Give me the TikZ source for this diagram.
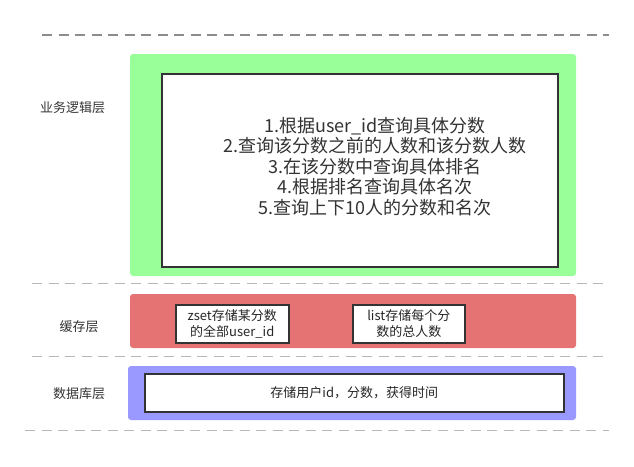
\documentclass[tikz,border=0pt]{standalone}
\usepackage{fontspec}
\setmainfont{Noto Sans CJK SC}
\begin{document}
\begin{tikzpicture}[x=1pt,y=-1pt,
  sep/.style={draw=#1,line width=1.5pt,dash pattern=on 10pt off 6.5pt},
  layer/.style={rounded corners=3pt,draw=none},
  inbox/.style={draw=black!80,line width=1.5pt,fill=white,inner sep=0pt},
  lbl/.style={font=\fontsize{13}{15}\selectfont,text=black!80}]
\useasboundingbox (0,0) rectangle (634,466);
\definecolor{lgreen}{HTML}{99FF99}
\definecolor{lred}{HTML}{E57373}
\definecolor{lblue}{HTML}{9999FF}
\definecolor{sepdark}{HTML}{8C8C8C}
\definecolor{seplight}{HTML}{B8B8B8}
% separators
\coordinate (s1a) at (42,35); \coordinate (s1b) at (609,35);
\coordinate (s2a) at (32,283.5); \coordinate (s2b) at (609,283.5);
\coordinate (s3a) at (32,356.5); \coordinate (s3b) at (609,356.5);
\coordinate (s4a) at (25,430.5); \coordinate (s4b) at (609,430.5);
\draw[sep=sepdark] (s1a) -- (s1b);
\draw[sep=seplight] (s2a) -- (s2b);
\draw[sep=seplight] (s3a) -- (s3b);
\draw[sep=seplight] (s4a) -- (s4b);
% layers
\fill[lgreen,layer] (130,54) rectangle (576,276);
\fill[lred,layer] (130,294) rectangle (576,348);
\fill[lblue,layer] (128,366) rectangle (576,420);
% logic box
\node[inbox,minimum width=396pt,minimum height=193pt,anchor=north west] (logic) at (161,73) {};
\node[align=center,font=\fontsize{18}{20.4}\selectfont,text=black!80] (steps) at (375,166.5)
  {1.根据user\_id查询具体分数\\2.查询该分数之前的人数和该分数人数\\3.在该分数中查询具体排名\\4.根据排名查询具体名次\\5.查询上下10人的分数和名次};
% cache boxes
\node[inbox,minimum width=113pt,minimum height=38pt,anchor=north west,
  align=center,font=\fontsize{13}{16}\selectfont,text=black!85] (zset) at (175,304)
  {zset存储某分数\\的全部user\_id};
\node[inbox,minimum width=112pt,minimum height=38pt,anchor=north west,
  align=center,font=\fontsize{13}{16}\selectfont,text=black!85] (list) at (352,304)
  {list存储每个分\\数的总人数};
% db box
\node[inbox,minimum width=419pt,minimum height=38pt,anchor=north west,
  font=\fontsize{13}{15}\selectfont,text=black!85] (db) at (144,373)
  {存储用户id，分数，获得时间};
% labels
\node[lbl] (l1) at (72.5,107.5) {业务逻辑层};
\node[lbl] (l2) at (79,327) {缓存层};
\node[lbl] (l3) at (79,394) {数据库层};
\end{tikzpicture}
\end{document}
